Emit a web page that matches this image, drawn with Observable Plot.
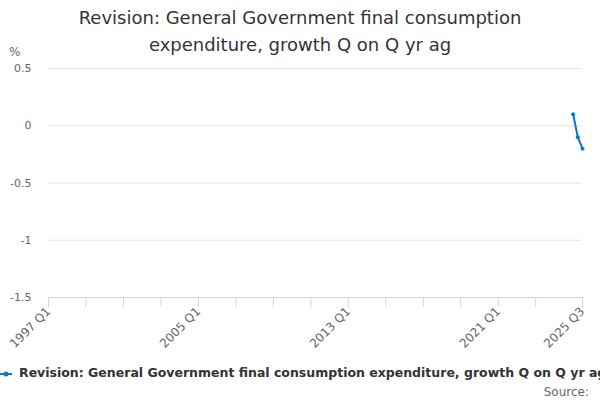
<!DOCTYPE html>
<html>
<head>
<meta charset="utf-8">
<script src="https://cdn.jsdelivr.net/npm/d3@7"></script>
<script src="https://cdn.jsdelivr.net/npm/@observablehq/plot@0.6"></script>
<style>
  html, body { margin: 0; padding: 0; background: #fff; }
  #wrap { position: relative; width: 600px; height: 400px; overflow: hidden; font-family: "DejaVu Sans", sans-serif; }
  #wrap svg.plot { position: absolute; left: 0; top: 0; }
  #title { position: absolute; left: 0; top: 4px; width: 600px; text-align: center; font-size: 18px; line-height: 27px; color: #333; }
  #unit { position: absolute; left: 9px; top: 45px; font-size: 12px; color: #666; }
  #legend { position: absolute; left: 0; top: 365px; white-space: nowrap; font-size: 12.5px; font-weight: bold; color: #333; }
  #legend svg { vertical-align: middle; margin-right: 5px; }
  #source { position: absolute; right: 11px; top: 385px; font-size: 12px; color: #666; }
</style>
</head>
<body>
<div id="wrap">
  <div id="title">Revision: General Government final consumption<br>expenditure, growth Q on Q yr ag</div>
  <div id="unit">%</div>
  <div id="legend"></div>
  <div id="source">Source:</div>
</div>
<script>
const periods = ["2025 Q1", "2025 Q2", "2025 Q3"];
const values = [0.1, -0.1, -0.2];
const yTicks = [-1.5, -1, -0.5, 0, 0.5];
const xTickMarks = ["1997 Q1", "1999 Q1", "2001 Q1", "2003 Q1", "2005 Q1", "2007 Q1", "2009 Q1",
  "2011 Q1", "2013 Q1", "2015 Q1", "2017 Q1", "2019 Q1", "2021 Q1", "2023 Q1", "2025 Q3"];
const xTickLabels = ["1997 Q1", "2005 Q1", "2013 Q1", "2021 Q1", "2025 Q3"];
const xDomain = ["1997 Q1", "2025 Q3"];
const seriesName = "Revision: General Government final consumption expenditure, growth Q on Q yr ag";
const color = "#0a78c6";

const toNum = s => +s.slice(0, 4) + (+s.slice(6) - 1) / 4;
const labelOf = new Map(xTickMarks.map(s => [toNum(s), s]));
const data = periods.map((p, i) => ({x: toNum(p), y: values[i]}));

const chart = Plot.plot({
  width: 600,
  height: 400,
  marginTop: 68,
  marginBottom: 103,
  marginLeft: 48,
  marginRight: 18,
  style: {fontFamily: "DejaVu Sans, sans-serif", fontSize: "11px", color: "#666", background: "transparent"},
  x: {type: "linear", domain: xDomain.map(toNum)},
  y: {domain: [-1.5, 0.5]},
  marks: [
    Plot.gridY(yTicks.filter(d => d > -1.5), {stroke: "#e6e6e6", strokeOpacity: 1}),
    Plot.axisY(yTicks, {tickSize: 0, tickPadding: 17, tickFormat: d => String(d), fill: "#666", label: null}),
    Plot.ruleY([-1.5], {stroke: "#ccd6eb"}),
    Plot.axisX(xTickMarks.map(toNum), {
      tickSize: 10, stroke: "#ccd6eb", strokeOpacity: 1, fill: "#666", label: null,
      tickRotate: -45, tickPadding: 2, fontSize: 12,
      tickFormat: d => xTickLabels.includes(labelOf.get(d)) ? labelOf.get(d) : ""
    }),
    Plot.line(data, {x: "x", y: "y", stroke: color, strokeWidth: 2}),
    Plot.dot(data, {x: "x", y: "y", fill: color, r: 2})
  ]
});
chart.classList.add("plot");
document.getElementById("wrap").prepend(chart);

const legend = document.getElementById("legend");
legend.innerHTML = `<svg width="14" height="10"><line x1="0" y1="5" x2="12" y2="5" stroke="${color}" stroke-width="2"></line><circle cx="6" cy="5" r="2.5" fill="${color}"></circle></svg>`;
legend.appendChild(document.createTextNode(seriesName));
</script>
</body>
</html>
